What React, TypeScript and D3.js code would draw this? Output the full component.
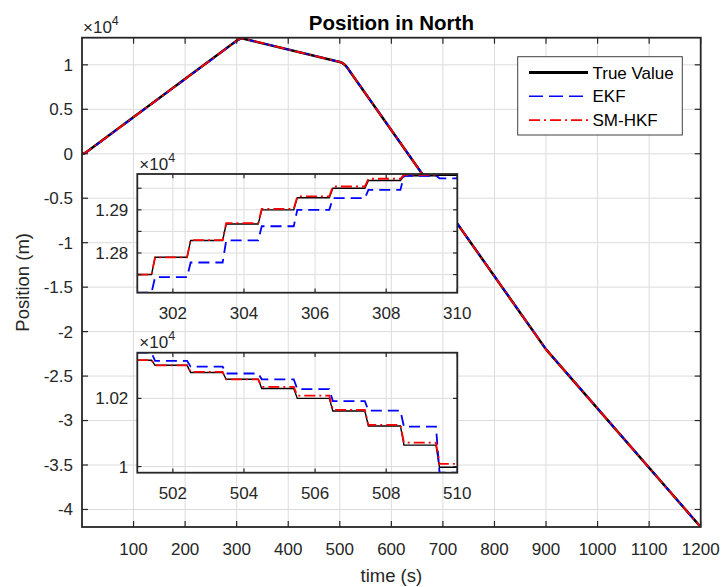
import React from 'react';
import * as d3 from 'd3';

// ---------------- data ----------------
const mainTimes = [0, 4, 8, 12, 301, 306, 310, 500, 505, 510, 515, 520, 900, 1200];
const trueMain = [0, 40, 160, 330, 12750, 12920, 12990, 10320, 10215, 9990, 9640, 9230, -22000, -41970];
const ekfMain = [0, 30, 140, 300, 12710, 12880, 12985, 10334, 10240, 10000, 9680, 9260, -21950, -41960];
const hkfMain = [0, 40, 160, 330, 12750, 12925, 12992, 10320, 10220, 9995, 9645, 9235, -22000, -41970];

const mainXTicks = [100, 200, 300, 400, 500, 600, 700, 800, 900, 1000, 1100, 1200];
const mainYTicks = [10000, 5000, 0, -5000, -10000, -15000, -20000, -25000, -30000, -35000, -40000];
const mainYLabels = ['1', '0.5', '0', '-0.5', '-1', '-1.5', '-2', '-2.5', '-3', '-3.5', '-4'];

// inset 1 (t = 301..310)
const stepTimes1 = [301.4, 302.4, 303.4, 304.4, 305.4, 306.4, 307.4, 308.4, 309.4];
const true1 = [12750, 12790, 12829, 12867, 12900, 12928, 12950, 12968, 12979, 12980];
const ekf1 = [12708, 12744, 12778, 12829, 12862, 12900, 12927, 12946, 12979, 12973];
const hkf1 = [12750, 12790, 12830, 12869, 12902, 12931, 12954, 12972, 12981, 12983];
const inset1XTicks = [302, 304, 306, 308, 310];
const inset1YTicks = [12750, 12800, 12850, 12900, 12950];
const inset1YLabels = ['', '1.28', '', '1.29', ''];

// inset 2 (t = 501..510)
const stepTimes2 = [501.4, 502.4, 503.4, 504.4, 505.4, 506.4, 507.4, 508.4, 509.4];
const true2 = [10312, 10297, 10276, 10256, 10229, 10200, 10163, 10119, 10063, 9998];
const ekf2 = [10334, 10310, 10293, 10273, 10256, 10227, 10192, 10164, 10117, 9982];
const hkf2 = [10312, 10297, 10278, 10256, 10234, 10208, 10166, 10122, 10070, 10008];
const inset2XTicks = [502, 504, 506, 508, 510];
const inset2YTicks = [10000, 10200];
const inset2YLabels = ['1', '1.02'];

const seriesNames = ['True Value', 'EKF', 'SM-HKF'];

// ---------------- styling ----------------
const FONT = '"Liberation Sans", Arial, Helvetica, sans-serif';
const AX = '#262626';
const GRID = '#dcdcdc';
const TICK_FS = 17;
const TICK_LEN = 6;

const MAIN = { l: 82, r: 700.7, t: 37.7, b: 527 };
const IN1 = { l: 137.3, r: 457.3, t: 174, b: 292.7 };
const IN2 = { l: 137.3, r: 457.3, t: 352.7, b: 472.7 };

type Pt = [number, number];

function stairs(t0: number, t1: number, steps: number[], levels: number[]): Pt[] {
  const pts: Pt[] = [[t0, levels[0]]];
  steps.forEach((s, i) => {
    pts.push([s, levels[i]]);
    pts.push([s + 0.1, levels[i + 1]]);
  });
  pts.push([t1, levels[levels.length - 1]]);
  return pts;
}

const STYLES = [
  { color: '#000000', dash: undefined as string | undefined },
  { color: '#0000ff', dash: '11,6' },
  { color: '#ff0000', dash: '11,4,2,4' },
];

function Exponent({ x, y }: { x: number; y: number }) {
  return (
    <text x={x} y={y} fontFamily={FONT} fontSize={17} fill={AX}>
      <tspan>×10</tspan>
      <tspan dy={-8} fontSize={12.5}>4</tspan>
    </text>
  );
}

function Inset({ box, xDomain, steps, levels, xTicks, yTicks, yLabels, id }: any) {
  const all = ([] as number[]).concat(...levels);
  const x = d3.scaleLinear().domain(xDomain).range([box.l, box.r]);
  const y = d3.scaleLinear().domain([d3.min(all)!, d3.max(all)!]).range([box.b, box.t]);
  const mx = d3.scaleLinear().domain([0, 1200]).range([MAIN.l, MAIN.r]);
  const line = d3.line<Pt>().x((d) => x(d[0])).y((d) => y(d[1]));
  const widths = [1.4, 1.8, 1.8];
  return (
    <g>
      <defs>
        <clipPath id={id}>
          <rect x={box.l} y={box.t} width={box.r - box.l} height={box.b - box.t} />
        </clipPath>
      </defs>
      <rect x={box.l} y={box.t} width={box.r - box.l} height={box.b - box.t} fill="#fff" />
      <g clipPath={`url(#${id})`}>
        {mainXTicks.map((t) => (
          <line key={'m' + t} x1={mx(t)} x2={mx(t)} y1={box.t} y2={box.b} stroke={GRID} strokeWidth={1} />
        ))}
        {xTicks.map((t: number) => (
          <line key={'gx' + t} x1={x(t)} x2={x(t)} y1={box.t} y2={box.b} stroke={GRID} strokeWidth={1} />
        ))}
        {yTicks.map((t: number) => (
          <line key={'gy' + t} x1={box.l} x2={box.r} y1={y(t)} y2={y(t)} stroke={GRID} strokeWidth={1} />
        ))}
        {levels.map((lv: number[], i: number) => (
          <path
            key={i}
            d={line(stairs(xDomain[0], xDomain[1], steps, lv)) || ''}
            fill="none"
            stroke={STYLES[i].color}
            strokeWidth={widths[i]}
            strokeDasharray={STYLES[i].dash}
          />
        ))}
      </g>
      <rect x={box.l} y={box.t} width={box.r - box.l} height={box.b - box.t} fill="none" stroke={AX} strokeWidth={1.8} />
      {xTicks.map((t: number) => (
        <g key={'tx' + t}>
          <line x1={x(t)} x2={x(t)} y1={box.b} y2={box.b - TICK_LEN * 0.7} stroke={AX} strokeWidth={1.2} />
          <line x1={x(t)} x2={x(t)} y1={box.t} y2={box.t + TICK_LEN * 0.7} stroke={AX} strokeWidth={1.2} />
          <text x={x(t)} y={box.b + 26.6} textAnchor="middle" fontFamily={FONT} fontSize={TICK_FS} fill={AX}>
            {t}
          </text>
        </g>
      ))}
      {yTicks.map((t: number, i: number) => (
        <g key={'ty' + t}>
          <line x1={box.l} x2={box.l + TICK_LEN * 0.7} y1={y(t)} y2={y(t)} stroke={AX} strokeWidth={1.2} />
          <line x1={box.r} x2={box.r - TICK_LEN * 0.7} y1={y(t)} y2={y(t)} stroke={AX} strokeWidth={1.2} />
          {yLabels[i] && (
            <text x={box.l - 9} y={y(t)} dy="0.35em" textAnchor="end" fontFamily={FONT} fontSize={TICK_FS} fill={AX}>
              {yLabels[i]}
            </text>
          )}
        </g>
      ))}
      <Exponent x={box.l + 2} y={box.t - 4.5} />
    </g>
  );
}

export default function App() {
  const x = d3.scaleLinear().domain([0, 1200]).range([MAIN.l, MAIN.r]);
  const y = d3.scaleLinear().domain([-41970, 13050]).range([MAIN.b, MAIN.t]);
  const line = d3.line<Pt>().x((d) => x(d[0])).y((d) => y(d[1]));
  const mainSeries = [trueMain, ekfMain, hkfMain];
  const mainWidths = [2.5, 1.6, 1.8];
  const W = 721, H = 587;

  return (
    <svg width={W} height={H} viewBox={`0 0 ${W} ${H}`} style={{ position: 'absolute', left: 0, top: 0, background: '#fff' }}>
      <rect x={0} y={0} width={W} height={H} fill="#fff" />
      <defs>
        <clipPath id="mainclip">
          <rect x={MAIN.l} y={MAIN.t} width={MAIN.r - MAIN.l} height={MAIN.b - MAIN.t} />
        </clipPath>
      </defs>
      {/* grid */}
      {mainXTicks.map((t) => (
        <line key={'gx' + t} x1={x(t)} x2={x(t)} y1={MAIN.t} y2={MAIN.b} stroke={GRID} strokeWidth={1} />
      ))}
      {mainYTicks.map((t) => (
        <line key={'gy' + t} x1={MAIN.l} x2={MAIN.r} y1={y(t)} y2={y(t)} stroke={GRID} strokeWidth={1} />
      ))}
      {/* main lines */}
      <g clipPath="url(#mainclip)">
        {mainSeries.map((vals, i) => (
          <path
            key={i}
            d={line(mainTimes.map((t, k) => [t, vals[k]] as Pt)) || ''}
            fill="none"
            stroke={STYLES[i].color}
            strokeWidth={mainWidths[i]}
            strokeDasharray={STYLES[i].dash}
            strokeLinejoin="round"
          />
        ))}
      </g>
      {/* frame + ticks */}
      <rect x={MAIN.l} y={MAIN.t} width={MAIN.r - MAIN.l} height={MAIN.b - MAIN.t} fill="none" stroke={AX} strokeWidth={1.8} />
      {mainXTicks.map((t) => (
        <g key={'tx' + t}>
          <line x1={x(t)} x2={x(t)} y1={MAIN.b} y2={MAIN.b - TICK_LEN} stroke={AX} strokeWidth={1.2} />
          <line x1={x(t)} x2={x(t)} y1={MAIN.t} y2={MAIN.t + TICK_LEN} stroke={AX} strokeWidth={1.2} />
          <text x={x(t)} y={554.5} textAnchor="middle" fontFamily={FONT} fontSize={TICK_FS} fill={AX}>
            {t}
          </text>
        </g>
      ))}
      {mainYTicks.map((t, i) => (
        <g key={'ty' + t}>
          <line x1={MAIN.l} x2={MAIN.l + TICK_LEN} y1={y(t)} y2={y(t)} stroke={AX} strokeWidth={1.2} />
          <line x1={MAIN.r} x2={MAIN.r - TICK_LEN} y1={y(t)} y2={y(t)} stroke={AX} strokeWidth={1.2} />
          <text x={73} y={y(t)} dy="0.35em" textAnchor="end" fontFamily={FONT} fontSize={TICK_FS} fill={AX}>
            {mainYLabels[i]}
          </text>
        </g>
      ))}
      <Exponent x={83} y={33} />

      {/* title and axis labels */}
      <text x={(MAIN.l + MAIN.r) / 2} y={29.5} textAnchor="middle" fontFamily={FONT} fontSize={20.5} fontWeight="bold" fill="#000">
        Position in North
      </text>
      <text x={(MAIN.l + MAIN.r) / 2} y={582} textAnchor="middle" fontFamily={FONT} fontSize={18.5} fill={AX}>
        time (s)
      </text>
      <text
        transform={`translate(29,${(MAIN.t + MAIN.b) / 2}) rotate(-90)`}
        textAnchor="middle"
        fontFamily={FONT}
        fontSize={18.5}
        fill={AX}
      >
        Position (m)
      </text>

      {/* legend */}
      <g>
        <rect x={517.7} y={56.7} width={164.6} height={78.3} fill="#fff" stroke="#404040" strokeWidth={1} />
        {seriesNames.map((name, i) => {
          const ly = 72.5 + i * 23.8;
          return (
            <g key={name}>
              <line
                x1={529}
                x2={588}
                y1={ly}
                y2={ly}
                stroke={STYLES[i].color}
                strokeWidth={i === 0 ? 3 : 1.6}
                strokeDasharray={i === 0 ? undefined : i === 1 ? '14,6' : '11,4,2,4'}
              />
              <text x={592.5} y={ly} dy="0.36em" fontFamily={FONT} fontSize={TICK_FS} fill="#000">
                {name}
              </text>
            </g>
          );
        })}
      </g>

      {/* insets */}
      <Inset
        id="in1"
        box={IN1}
        xDomain={[301, 310]}
        steps={stepTimes1}
        levels={[true1, ekf1, hkf1]}
        xTicks={inset1XTicks}
        yTicks={inset1YTicks}
        yLabels={inset1YLabels}
      />
      <Inset
        id="in2"
        box={IN2}
        xDomain={[501, 510]}
        steps={stepTimes2}
        levels={[true2, ekf2, hkf2]}
        xTicks={inset2XTicks}
        yTicks={inset2YTicks}
        yLabels={inset2YLabels}
      />
    </svg>
  );
}
